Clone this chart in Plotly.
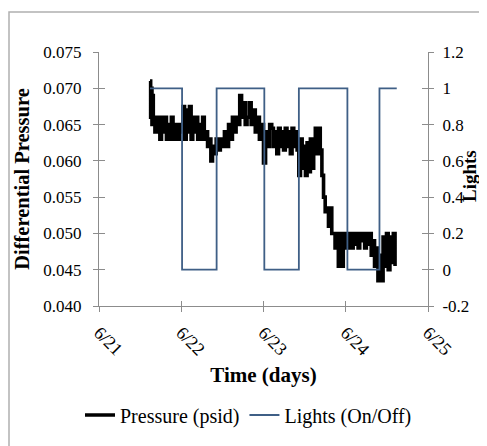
import numpy as np
import plotly.graph_objects as go

# ---- data (days after 6/21) ----
tick_days = [0, 1, 2, 3, 4]
tick_labels = ["6/21", "6/22", "6/23", "6/24", "6/25"]

# pressure read in segments: [start_day, end_day] and the sampled values inside
seg_bounds = [
    (0.62, 0.66), (0.66, 0.78), (0.78, 1.00), (1.00, 1.20), (1.20, 1.40),
    (1.40, 1.60), (1.60, 1.80), (1.80, 2.00), (2.00, 2.10), (2.10, 2.45),
    (2.45, 2.65), (2.65, 2.75), (2.75, 2.85), (2.85, 3.05), (3.05, 3.35),
    (3.35, 3.62),
]
seg_values = [
    [0.071, 0.066, 0.070, 0.065, 0.069],
    [0.066, 0.064, 0.066, 0.065, 0.063, 0.066],
    [0.064, 0.066, 0.063, 0.065, 0.063, 0.066, 0.064, 0.063, 0.065, 0.063, 0.064],
    [0.065, 0.0675, 0.063, 0.067, 0.064, 0.0675, 0.063, 0.066, 0.064, 0.066],
    [0.063, 0.065, 0.063, 0.066, 0.063, 0.064, 0.062, 0.063, 0.060, 0.062],
    [0.061, 0.063, 0.0615, 0.063, 0.062, 0.064, 0.062, 0.065],
    [0.063, 0.066, 0.064, 0.066, 0.065, 0.069, 0.066, 0.068, 0.065],
    [0.066, 0.068, 0.065, 0.067, 0.064, 0.066, 0.063, 0.065],
    [0.0597, 0.064, 0.062, 0.065],
    [0.0645, 0.062, 0.064, 0.061, 0.0645, 0.062, 0.064, 0.0615, 0.0645, 0.062,
     0.064, 0.061, 0.0645, 0.062, 0.064, 0.0615, 0.058],
    [0.063, 0.059, 0.062, 0.058, 0.0625, 0.0585, 0.063, 0.059, 0.062, 0.0645],
    [0.061, 0.0645, 0.0615, 0.058, 0.055],
    [0.053, 0.0535, 0.051, 0.0535, 0.050],
    [0.050, 0.048, 0.050, 0.0455, 0.050, 0.0455, 0.049, 0.050, 0.048, 0.050],
    [0.050, 0.048, 0.050, 0.0485, 0.050, 0.048, 0.050, 0.049, 0.050, 0.048,
     0.050, 0.0485, 0.050, 0.047, 0.049],
    [0.0455, 0.048, 0.0435, 0.047, 0.0435, 0.0495, 0.0455, 0.050, 0.045, 0.0495,
     0.046, 0.050, 0.0455],
]

lights_days = [0.62, 1.01, 1.43, 2.01, 2.43, 3.02, 3.41, 3.62]
lights_state = [1, 0, 1, 0, 1, 0, 1, 1]

# ---- assemble pressure samples ----
p_t, p_v = [], []
for (a, b), vals in zip(seg_bounds, seg_values):
    ts = np.linspace(a, b, len(vals), endpoint=False)
    p_t.extend(ts.tolist())
    p_v.extend(vals)

FONT = "Liberation Serif"
AX = "#8c8c8c"
L, R, T, B = 91, 67, 44, 148
W, H = 487, 446
PW, PH = W - L - R, H - T - B

fig = go.Figure()
fig.add_trace(go.Scatter(
    x=p_t, y=p_v, mode="lines", line=dict(color="black", width=3.6, shape="hv"),
    name="Pressure (psid)", yaxis="y"))
fig.add_trace(go.Scatter(
    x=lights_days, y=lights_state, mode="lines",
    line=dict(color="#3f5f86", width=1.8, shape="hv"),
    name="Lights (On/Off)", yaxis="y2"))

fig.update_layout(
    width=W, height=H,
    margin=dict(l=L, r=R, t=T, b=B, autoexpand=False),
    paper_bgcolor="white", plot_bgcolor="white",
    font=dict(family=FONT, size=17, color="black"),
    showlegend=True,
    legend=dict(orientation="h", x=(72 - L) / PW, xanchor="left",
                y=(T + PH - 407) / PH, yanchor="middle",
                font=dict(size=20), traceorder="normal"),
    xaxis=dict(range=[0, 4], tickvals=tick_days, ticktext=tick_labels,
               tickangle=45, showgrid=False, zeroline=False, automargin=False,
               showline=True, linecolor=AX, linewidth=1,
               ticks="outside", ticklen=5, tickcolor=AX, ticklabelstandoff=3,
               tickfont=dict(size=18),
               title=dict(text="<b>Time (days)</b>", font=dict(size=21), standoff=8)),
    xaxis2=dict(range=[0, 4], tickvals=tick_days, overlaying="x", side="bottom",
                showticklabels=False, showgrid=False, zeroline=False,
                ticks="inside", ticklen=5, tickcolor=AX, showline=False),
    yaxis=dict(range=[0.040, 0.075], dtick=0.005, tickformat=".3f",
               showgrid=False, zeroline=False, showline=True, linecolor=AX,
               ticks="outside", ticklen=5, tickcolor=AX, automargin=False,
               ticklabelstandoff=8, tickfont=dict(size=17),
               title=dict(text="<b>Differential Pressure</b>", font=dict(size=20.5), standoff=8)),
    yaxis2=dict(range=[-0.2, 1.2], overlaying="y", side="right",
                tickvals=[-0.2, 0, 0.2, 0.4, 0.6, 0.8, 1, 1.2],
                ticktext=["-0.2", "0", "0.2", "0.4", "0.6", "0.8", "1", "1.2"],
                showgrid=False, zeroline=False, showline=True, linecolor=AX,
                ticks="outside", ticklen=5, tickcolor=AX, automargin=False,
                ticklabelstandoff=5, tickfont=dict(size=17)),
    yaxis3=dict(range=[0.040, 0.075], dtick=0.005, overlaying="y", side="left",
                showticklabels=False, showgrid=False, zeroline=False,
                ticks="inside", ticklen=6, tickcolor=AX, showline=False),
    yaxis4=dict(range=[-0.2, 1.2], dtick=0.2, overlaying="y", side="right",
                showticklabels=False, showgrid=False, zeroline=False,
                ticks="inside", ticklen=6, tickcolor=AX, showline=False),
)
# right-axis title placed next to its tick labels
fig.add_annotation(text="<b>Lights</b>", xref="paper", yref="paper",
                   x=(461 - L) / PW, y=(T + PH - 168) / PH, textangle=-90,
                   showarrow=False, font=dict(size=19, family=FONT),
                   xanchor="center", yanchor="middle")

# invisible traces to activate the inner-tick axes
fig.add_trace(go.Scatter(x=[0], y=[0.05], yaxis="y3", mode="markers",
                         marker=dict(opacity=0), showlegend=False, hoverinfo="skip"))
fig.add_trace(go.Scatter(x=[0], y=[0.5], yaxis="y4", mode="markers",
                         marker=dict(opacity=0), showlegend=False, hoverinfo="skip"))
fig.add_trace(go.Scatter(x=[0], y=[0.05], xaxis="x2", mode="markers",
                         marker=dict(opacity=0), showlegend=False, hoverinfo="skip"))

# outer chart frame
fig.add_shape(type="rect", xref="paper", yref="paper",
              x0=(1 - L) / PW, x1=(W + 20 - L) / PW,
              y0=(T + PH - (H + 20)) / PH, y1=(T + PH - 4) / PH,
              line=dict(color="#b0b0b0", width=1.5), fillcolor="rgba(0,0,0,0)",
              layer="below")

fig.write_html("out.html")
